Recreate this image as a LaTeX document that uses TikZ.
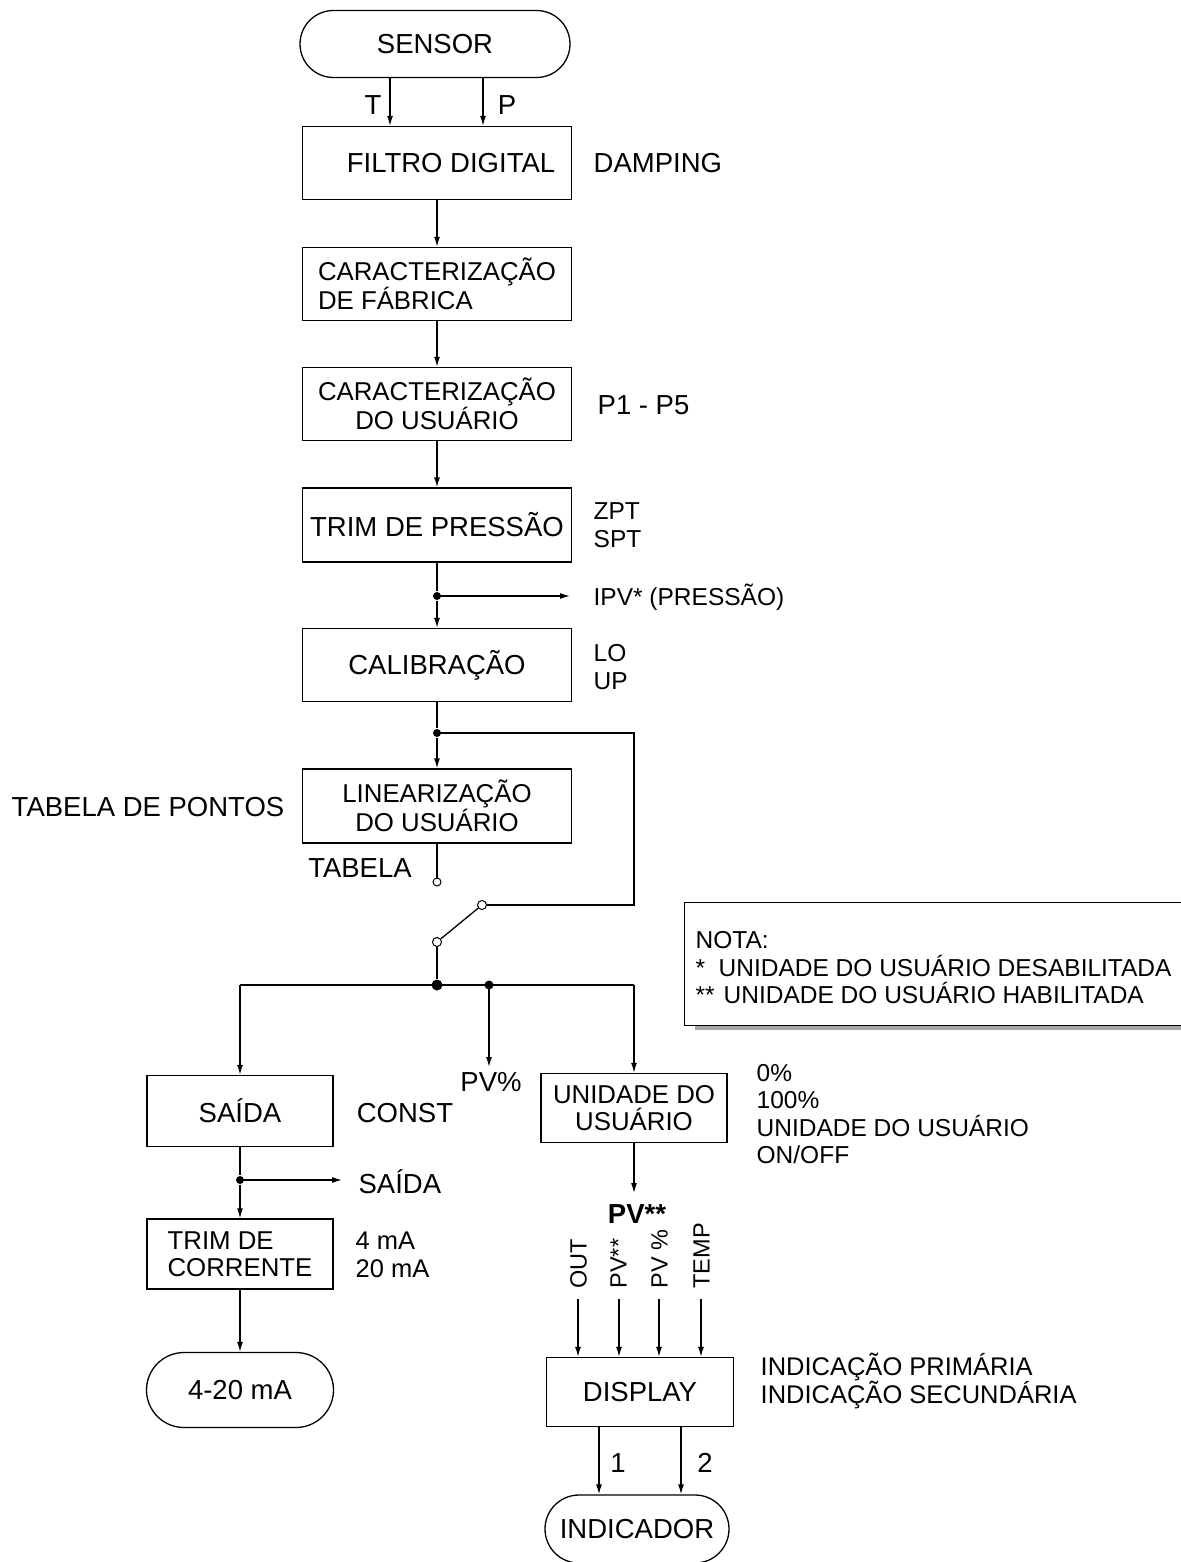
\documentclass[tikz,border=0pt]{standalone}
\usepackage{fontspec}
\setmainfont{Liberation Sans}
\usetikzlibrary{arrows.meta,shapes.misc}
\newcommand{\bigf}{\fontsize{27.5}{28}\selectfont}
\newcommand{\midf}{\fontsize{25.8}{27.5}\selectfont}
\newcommand{\smf}{\fontsize{24.5}{27.5}\selectfont}
\newcommand{\rotf}{\fontsize{23.5}{26}\selectfont}
\begin{document}
\begin{tikzpicture}[x=1pt,y=-1pt,line width=1.3pt,
  box/.style={draw, minimum width=269, minimum height=73, inner sep=0, align=center, font=\bigf},
  sbox/.style={draw, minimum width=186, minimum height=70, inner sep=0, align=center, font=\bigf},
  term/.style={draw, rounded rectangle, minimum width=270, minimum height=67, inner sep=0, font=\bigf},
  arr/.style={-{Latex[length=10pt,width=6pt]}},
  dot/.style={circle, fill, inner sep=0, minimum size=8},
  opn/.style={circle, draw, fill=white, inner sep=0, minimum size=8, line width=1pt},
  lbl/.style={inner sep=0, font=\smf, align=left},
  blbl/.style={inner sep=0, font=\bigf, align=left},
  rlbl/.style={inner sep=0, font=\rotf, rotate=90, anchor=west, text height=17pt, text depth=0pt}
]
\useasboundingbox (0,0) rectangle (1180,1562);

% main column
\node[term] (sensor) at (435,44) {SENSOR};
\node[box] (filtro) at (437,163) {\hspace*{28pt}FILTRO DIGITAL};
\node[box, font=\midf, align=left] (fab) at (437,284) {CARACTERIZAÇÃO\\DE FÁBRICA};
\node[box, font=\midf] (usr) at (437,404) {CARACTERIZAÇÃO\\DO USUÁRIO};
\node[box, minimum height=74] (trim) at (437,525) {TRIM DE PRESSÃO};
\node[box] (calib) at (437,665) {CALIBRAÇÃO};
\node[box, font=\midf, minimum height=74] (lin) at (437,806) {LINEARIZAÇÃO\\DO USUÁRIO};

% side labels
\node[blbl, anchor=west] (damp) at (593,163) {DAMPING};
\node[blbl, anchor=west] (p15) at (597,405) {P1 - P5};
\node[lbl, anchor=west] (zpt) at (593,525) {ZPT\\SPT};
\node[lbl, anchor=west] (ipv) at (593,597) {IPV* (PRESSÃO)};
\node[lbl, anchor=west] (loup) at (593,667) {LO\\UP};
\node[blbl] (tabpt) at (148,807) {TABELA DE PONTOS};
\node[blbl] (tab) at (360,868) {TABELA};
\node[blbl] (tl) at (373,105) {T};
\node[blbl] (pl) at (507,105) {P};

% sensor arrows
\coordinate (tx) at (390,0);
\coordinate (px) at (483,0);
\draw[arr] (sensor.south -| tx) -- (filtro.north -| tx);
\draw[arr] (sensor.south -| px) -- (filtro.north -| px);

\draw[arr] (filtro) -- (fab);
\draw[arr] (fab) -- (usr);
\draw[arr] (usr) -- (trim);

\node[dot] (j1) at (437,596) {};
\coordinate (ipvend) at (570,596);
\draw (trim) -- (j1);
\draw[arr] (j1) -- (calib);
\draw[arr] (j1.center) -- (ipvend);

\node[dot] (j2) at (437,733) {};
\draw (calib) -- (j2);
\draw[arr] (j2) -- (lin);
\coordinate (c1) at (634,733);
\coordinate (c2) at (634,905);

% switch
\node[opn] (tabt) at (437,882) {};
\node[opn, minimum size=9] (sw1) at (482,905) {};
\node[opn, minimum size=9] (sw2) at (437,942) {};
\draw (lin) -- (tabt);
\draw (j2.center) -- (c1) -- (c2) -- (sw1);
\draw (sw1) -- (sw2);

\node[dot, minimum size=11] (j3) at (437,985) {};
\node[dot, minimum size=9] (j4) at (489,985) {};
\draw (sw2) -- (j3);
\coordinate (cl) at (240,985);
\coordinate (cr) at (634,985);
\draw (cl) -- (cr);
\coordinate (pvend) at (489,1067);
\draw[arr] (j4.center) -- (pvend);

% left branch
\node[sbox, minimum height=71] (saida) at (240,1111) {SAÍDA};
\node[sbox, font=\midf, align=left] (trimc) at (240,1254) {TRIM DE\\CORRENTE};
\node[term, minimum width=187, minimum height=75] (out) at (240,1390) {4-20 mA};
\draw[arr] (cl) -- (saida.north);
\node[dot] (j5) at (240,1180) {};
\coordinate (sdend) at (342,1180);
\draw (saida) -- (j5);
\draw[arr] (j5) -- (trimc);
\draw[arr] (j5.center) -- (sdend);
\draw[arr] (trimc) -- (out);
\node[blbl] (const) at (405,1113) {CONST};
\node[blbl] (pvp) at (491,1082) {PV\%};
\node[blbl, anchor=west] (saidal) at (358,1182) {SAÍDA};
\node[lbl, font=\fontsize{25.5}{27.5}\selectfont, anchor=west] (ma) at (355,1255) {4 mA\\20 mA};

% right branch
\node[sbox, font=\midf, minimum height=69] (unid) at (634,1108) {UNIDADE DO\\USUÁRIO};
\draw[arr] (cr) -- (unid.north);
\node[lbl, anchor=west] (ulist) at (756,1114) {0\%\\100\%\\UNIDADE DO USUÁRIO\\ON/OFF};
\coordinate (pvs) at (634,1193);
\draw[arr] (unid) -- (pvs);
\node[inner sep=0, font=\bigf\bfseries] (pvbold) at (637,1214) {PV**};

\node[rlbl] (lout) at (578,1289) {OUT};
\node[rlbl] (lpv) at (618,1289) {PV**};
\node[rlbl] (lpvp) at (659,1289) {PV \%};
\node[rlbl] (ltemp) at (701,1289) {TEMP};

\node[sbox, minimum width=187, minimum height=69] (disp) at (640,1392) {DISPLAY};
\coordinate (a1) at (578,1299);
\coordinate (a2) at (619,1299);
\coordinate (a3) at (659,1299);
\coordinate (a4) at (701,1299);
\draw[arr] (a1) -- (a1 |- disp.north);
\draw[arr] (a2) -- (a2 |- disp.north);
\draw[arr] (a3) -- (a3 |- disp.north);
\draw[arr] (a4) -- (a4 |- disp.north);
\node[lbl, font=\fontsize{25.5}{27.5}\selectfont, anchor=west] (indl) at (760,1381) {INDICAÇÃO PRIMÁRIA\\INDICAÇÃO SECUNDÁRIA};

\node[term, minimum width=184, minimum height=68] (indic) at (637,1529) {INDICADOR};
\coordinate (b1) at (599,0);
\coordinate (b2) at (681,0);
\draw[arr] (disp.south -| b1) -- (indic.north -| b1);
\draw[arr] (disp.south -| b2) -- (indic.north -| b2);
\node[blbl] (n1) at (618,1463) {1};
\node[blbl] (n2) at (705,1463) {2};

% note
\fill[gray!70] (695,906) rectangle (1200,1030);
\draw[fill=white, line width=1pt] (684,902) rectangle (1200,1025);
\node[lbl, anchor=west] (note) at (695,968) {NOTA:\\\makebox[23pt][l]{*}UNIDADE DO USUÁRIO DESABILITADA\\\makebox[28pt][l]{**}UNIDADE DO USUÁRIO HABILITADA};
\end{tikzpicture}
\end{document}
